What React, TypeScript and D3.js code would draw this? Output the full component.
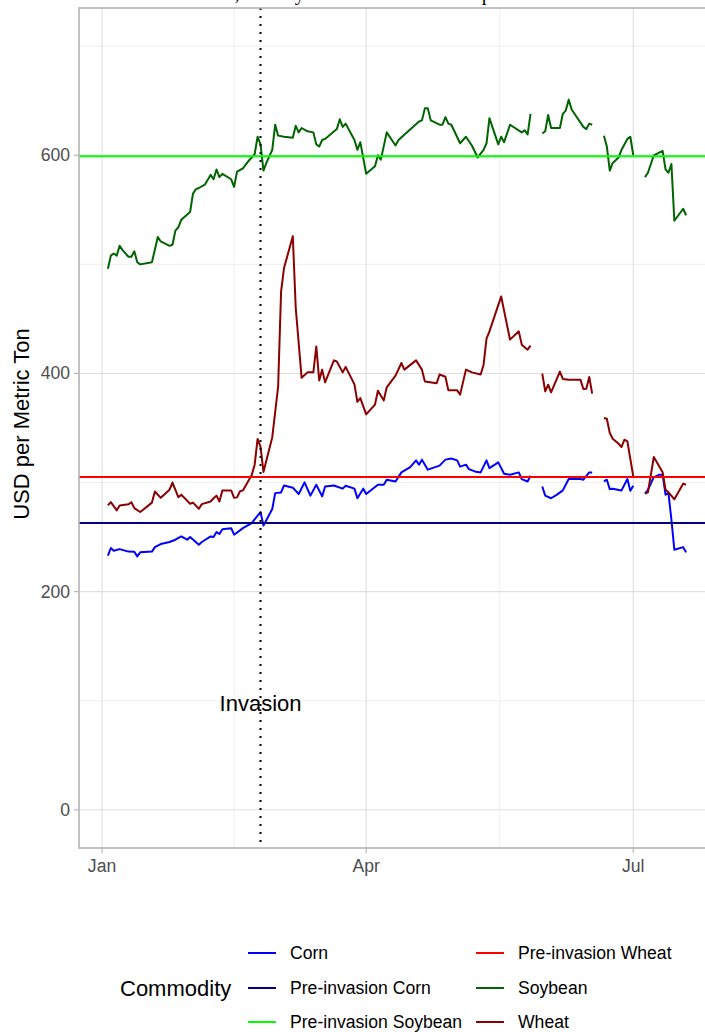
import React from "react";
import * as d3 from "d3";

// trading days (MM-DD of 2022); null = holiday gap
const cornDates = ["01-03","01-04","01-05","01-07","01-10","01-12","01-13","01-14","01-18","01-19","01-21","01-24","01-26","01-28","01-30","01-31","02-03","02-04","02-07","02-08","02-09","02-10","02-11","02-14","02-15","02-18","02-21","02-24","02-25","02-28","03-01","03-03","03-04","03-07","03-09","03-11","03-13","03-15","03-17","03-18","03-21","03-24","03-25","03-28","03-29","03-31","04-01","04-05","04-07","04-08","04-11","04-13","04-16","04-18","04-19","04-20","04-22","04-26","04-28","04-30","05-02","05-03","05-05","05-06","05-08","05-10","05-12","05-13","05-16","05-18","05-20","05-23","05-24","05-26","05-27","05-30","05-31","06-01","06-03","06-05","06-07","06-09","06-13","06-14","06-16","06-17","06-20","06-21","06-22","06-23","06-24","06-27","06-29","06-30","07-01","07-04","07-05","07-06","07-08","07-10","07-11","07-12","07-13","07-14","07-15","07-18","07-19"];
const cornPrices = [233,240,237.5,239,236.7,236.6,232.3,236,236.7,240.8,243.6,245.5,247.6,250.6,247.6,250,243,245.5,250.6,250,254.6,252.8,257.2,258.2,252.2,258.2,262.9,272.9,260.5,275.7,290.3,290.9,297.3,295.3,289.5,300.2,288,298,287.3,296.4,297.3,294.4,297.1,294.4,285.6,294.4,289.5,298,298,302.6,301,309.3,314.2,320.3,316.4,321,311.8,315.5,321,322,320.3,314.6,316.4,312.3,310.2,309.3,320.3,313.2,318.5,308,307.2,309.3,303.1,301,306.3,null,296.4,288,285.6,288.9,292.8,303.2,303.2,302.6,309.3,309.3,null,301,302.6,294,294.3,292.8,303.2,292.5,297.1,null,289.8,293.4,305,307.2,307.2,288.9,290.3,265.9,238.4,240.8,236];

const wheatDates = ["01-03","01-04","01-06","01-07","01-10","01-11","01-12","01-14","01-15","01-18","01-19","01-21","01-24","01-25","01-27","01-28","01-31","02-01","02-03","02-04","02-07","02-08","02-09","02-10","02-11","02-14","02-15","02-16","02-17","02-18","02-21","02-22","02-23","02-24","02-25","02-28","03-02","03-03","03-04","03-07","03-08","03-10","03-12","03-14","03-15","03-16","03-17","03-18","03-21","03-22","03-24","03-25","03-28","03-29","03-30","04-01","04-04","04-05","04-07","04-08","04-11","04-13","04-14","04-18","04-20","04-21","04-25","04-26","04-28","04-29","05-02","05-03","05-05","05-07","05-10","05-11","05-12","05-13","05-17","05-20","05-23","05-24","05-26","05-27","05-30","05-31","06-01","06-02","06-03","06-06","06-07","06-09","06-13","06-14","06-15","06-16","06-17","06-20","06-21","06-22","06-23","06-24","06-26","06-27","06-28","06-29","07-01","07-04","07-05","07-06","07-08","07-11","07-12","07-13","07-15","07-18","07-19"];
const wheatPrices = [279,282,274.5,279,280,282,276.5,273,275,281.6,291.8,286,293.4,300,286.6,288.9,280.6,281.6,276,280.2,282.6,285.6,288,282.6,292.8,292.8,286,286.4,292,292.8,307,316.4,340,333,309.7,341.6,388,475,496.6,525.7,460,396,401,401,424.8,393.6,403.5,391.8,412,411,401,406,390,374,377.4,362.5,371.4,384.2,375.3,387.3,398,409.6,403.5,412,403.5,392.7,391,399,397,384.5,384.5,380.6,403.5,401,399,408,432,438.6,470.6,431,438.6,426.4,421.8,425.5,null,399.8,383.6,389.7,382.7,401.7,395,394.3,394.3,385.8,386,396.8,381.5,null,359.2,358.5,345.4,340.2,335.6,332.6,339.3,337.8,305.6,null,289.8,291,323.4,309.5,293.4,291,284.7,299,298];

const soyDates = ["01-03","01-04","01-05","01-06","01-07","01-08","01-10","01-11","01-12","01-13","01-14","01-18","01-20","01-21","01-24","01-25","01-26","01-27","01-28","01-31","02-01","02-02","02-03","02-05","02-07","02-08","02-09","02-10","02-11","02-14","02-15","02-16","02-18","02-20","02-22","02-23","02-24","02-25","02-26","02-28","03-01","03-02","03-04","03-07","03-08","03-09","03-10","03-12","03-14","03-15","03-16","03-17","03-18","03-22","03-23","03-24","03-25","03-28","03-29","03-30","04-01","04-04","04-05","04-06","04-08","04-11","04-12","04-19","04-20","04-21","04-22","04-23","04-26","04-27","04-28","04-29","04-30","05-03","05-05","05-07","05-09","05-11","05-12","05-13","05-16","05-17","05-18","05-20","05-24","05-25","05-26","05-27","05-30","05-31","06-01","06-02","06-03","06-06","06-07","06-08","06-09","06-10","06-14","06-15","06-16","06-17","06-20","06-21","06-22","06-23","06-24","06-26","06-27","06-29","06-30","07-01","07-04","07-05","07-06","07-08","07-11","07-12","07-13","07-14","07-15","07-18","07-19"];
const soyPrices = [496,508,510,508,517,513,507,507,512,502,500,502,525,521,517,518,531,534,541,548,565,569,570,573,582,578,587,580,583,578,571,585,588,595,601,617,610,586,593,605,628,618,617,616,627,621,625,622,621,610,608,614,615,624,633,626,629,614,605,612,583,590,600,596,621,609,614,631,632,643,643,632,628,628,635,629,628,611,617,609,598,605,611,634,610,617,612,628,621,623,619,638,null,620,622,637,625,625,638,641,651,642,626,624,629,628,null,618,608,586,593,598,605,615,617,600,null,580,584,600,604,587,584,592,540,551,545];

const commodities = ["Corn","Pre-invasion Corn","Pre-invasion Soybean","Pre-invasion Wheat","Soybean","Wheat"];
const commodityColors = ["#0000FF","#000080","#00FF00","#FF0000","#006400","#8B0000"];
const preInvasionNames = ["Pre-invasion Corn","Pre-invasion Soybean","Pre-invasion Wheat"];
const preInvasionLevels = [263, 599, 305];
const yTicks = [0, 200, 400, 600];
const yMinor = [100, 300, 500, 700];
const xTickLabels = ["Jan", "Apr", "Jul"];
const invasionDate = "02-24";

const parse = d3.timeParse("%Y-%m-%d");
const toDate = (s: string) => parse("2022-" + s) as Date;
const colorOf = (name: string) => commodityColors[commodities.indexOf(name)];

const series = [
  { name: "Corn", dates: cornDates, values: cornPrices },
  { name: "Wheat", dates: wheatDates, values: wheatPrices },
  { name: "Soybean", dates: soyDates, values: soyPrices },
];

export default function App() {
  const W = 705, H = 1032;
  const left = 79, right = 715, top = 8, bottom = 848;

  const allDates = series.flatMap(s => s.dates.map(toDate));
  const [d0, d1] = d3.extent(allDates) as [Date, Date];
  const pad = (d1.getTime() - d0.getTime()) * 0.05;
  const x = d3.scaleTime()
    .domain([new Date(d0.getTime() - pad), new Date(d1.getTime() + pad)])
    .range([left, right]);
  const y = d3.scaleLinear().domain([-35, 735]).range([bottom, top]);

  const majorX = [toDate("01-01"), toDate("04-01"), toDate("07-01")];
  const minorX = [toDate("02-15"), d3.timeHour.offset(toDate("05-16"), 12)];

  const line = d3.line<[Date, number | null]>()
    .defined(d => d[1] != null)
    .x(d => x(d[0]))
    .y(d => y(d[1] as number));

  const font = "'Liberation Sans', Arial, sans-serif";
  const ix = x(toDate(invasionDate));

  const legendRows = [953, 988, 1022];
  const legendCols = [248, 476];

  return (
    <div style={{ position: "absolute", left: 0, top: 0 }}>
      <svg width={W} height={H} style={{ display: "block" }}>
        <rect width={W} height={H} fill="#FFFFFF" />
        <text x={135} y={0} fontFamily="'Liberation Serif', serif" fontSize={20}>
          Grain Prices, Weekly Settlement Prices vs. pre-invasion levels
        </text>

        {/* grid */}
        {yMinor.map(v => (
          <line key={"ym" + v} x1={left} x2={right} y1={y(v)} y2={y(v)} stroke="#EBEBEB" strokeWidth={0.8} />
        ))}
        {minorX.map((d, i) => (
          <line key={"xm" + i} x1={x(d)} x2={x(d)} y1={top} y2={bottom} stroke="#EBEBEB" strokeWidth={0.8} />
        ))}
        {yTicks.map(v => (
          <line key={"y" + v} x1={left} x2={right} y1={y(v)} y2={y(v)} stroke="#DEDEDE" strokeWidth={1.1} />
        ))}
        {majorX.map((d, i) => (
          <line key={"x" + i} x1={x(d)} x2={x(d)} y1={top} y2={bottom} stroke="#DEDEDE" strokeWidth={1.1} />
        ))}

        {/* price series */}
        {series.map(s => (
          <path
            key={s.name}
            d={line(s.dates.map((d, i) => [toDate(d), s.values[i]] as [Date, number | null])) || ""}
            fill="none"
            stroke={colorOf(s.name)}
            strokeWidth={2}
            strokeLinejoin="round"
          />
        ))}

        {/* pre-invasion levels */}
        {preInvasionNames.map((n, i) => (
          <line key={n} x1={left} x2={right} y1={y(preInvasionLevels[i])} y2={y(preInvasionLevels[i])}
            stroke={colorOf(n)} strokeWidth={2} />
        ))}

        {/* invasion marker */}
        <line x1={ix} x2={ix} y1={top} y2={bottom} stroke="#000" strokeWidth={2} strokeDasharray="2 6" />
        <text x={ix} y={y(100) + 10} textAnchor="middle" fontFamily={font} fontSize={22}>
          Invasion
        </text>

        {/* panel border */}
        <rect x={left} y={top} width={right - left} height={bottom - top} fill="none" stroke="#B3B3B3" strokeWidth={1.6} />

        {/* y axis */}
        {yTicks.map(v => (
          <g key={"yt" + v}>
            <line x1={left - 5} x2={left} y1={y(v)} y2={y(v)} stroke="#B3B3B3" strokeWidth={1.1} />
            <text x={left - 9} y={y(v)} textAnchor="end" dominantBaseline="central" fontFamily={font} fontSize={17.6} fill="#4D4D4D">
              {v}
            </text>
          </g>
        ))}
        <text transform={`translate(29,${(top + bottom) / 2 - 4}) rotate(-90)`} textAnchor="middle" fontFamily={font} fontSize={22}>
          USD per Metric Ton
        </text>

        {/* x axis */}
        {majorX.map((d, i) => (
          <g key={"xt" + i}>
            <line x1={x(d)} x2={x(d)} y1={bottom} y2={bottom + 5} stroke="#B3B3B3" strokeWidth={1.1} />
            <text x={x(d)} y={bottom + 24} textAnchor="middle" fontFamily={font} fontSize={17.6} fill="#4D4D4D">
              {xTickLabels[i]}
            </text>
          </g>
        ))}

        {/* legend */}
        <text x={120} y={legendRows[1]} dominantBaseline="central" fontFamily={font} fontSize={22}>
          Commodity
        </text>
        {commodities.map((n, i) => {
          const cx = legendCols[Math.floor(i / 3)];
          const cy = legendRows[i % 3];
          return (
            <g key={"lg" + n}>
              <line x1={cx} x2={cx + 28} y1={cy} y2={cy} stroke={commodityColors[i]} strokeWidth={2} />
              <text x={cx + 42} y={cy} dominantBaseline="central" fontFamily={font} fontSize={17.6}>
                {n}
              </text>
            </g>
          );
        })}
      </svg>
    </div>
  );
}
